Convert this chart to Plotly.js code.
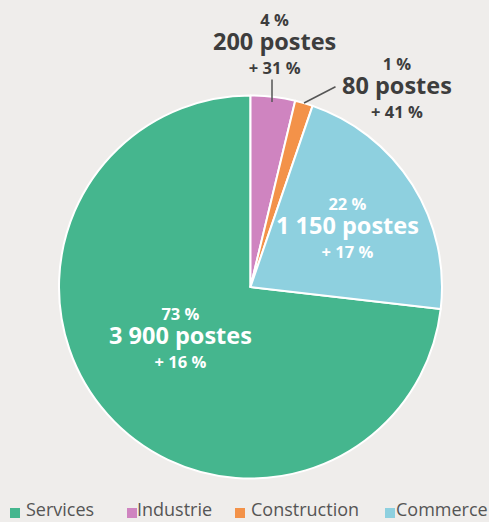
<!DOCTYPE html>
<html>
<head>
<meta charset="utf-8">
<script src="https://cdn.plot.ly/plotly-3.0.1.min.js"></script>
<style>
html,body{margin:0;padding:0;background:#efedeb;}
#chart{width:489px;height:522px;}
</style>
</head>
<body>
<div id="chart"></div>
<script>
// Data
const categories = ['Services', 'Industrie', 'Construction', 'Commerce'];
const postes = [3900, 200, 80, 1150];
const shares = ['73 %', '4 %', '1 %', '22 %'];
const growth = ['+ 16 %', '+ 31 %', '+ 41 %', '+ 17 %'];
const colors = ['#45b68e', '#cf84c0', '#f39249', '#8ed0df'];

function fmt(n) {
  return String(n).replace(/\B(?=(\d{3})+(?!\d))/g, ' ');
}
const posteLabels = postes.map(v => fmt(v) + ' postes');

const W = 489, H = 522;
const total = postes.reduce((a, b) => a + b, 0);
const rotation = 360 * (1 - postes[0] / total);

const trace = {
  type: 'pie',
  labels: categories,
  values: postes,
  sort: false,
  direction: 'clockwise',
  rotation: rotation,
  marker: { colors: colors, line: { color: '#ffffff', width: 2 } },
  textinfo: 'none',
  hoverinfo: 'label+value+percent',
  showlegend: false,
  domain: { x: [59 / W, 442 / W], y: [43.5 / H, 426.5 / H] }
};

// label block centres (pixels) for each category
const labelPos = [[180, 337], [274, 43], [397, 88], [347, 227]];
const textColor = ['#ffffff', '#3d3d3d', '#3d3d3d', '#ffffff'];

const annotations = [];
categories.forEach((c, i) => {
  const txt = '<b><span style="font-size:16.5px">' + shares[i] + '</span><br>' +
              '<span style="font-size:23.5px">' + posteLabels[i] + '</span><br>' +
              '<span style="font-size:16.5px">' + growth[i] + '</span></b>';
  annotations.push({
    xref: 'paper', yref: 'paper',
    x: labelPos[i][0] / W, y: 1 - labelPos[i][1] / H,
    xanchor: 'center', yanchor: 'middle', align: 'center',
    text: txt, showarrow: false,
    font: { family: 'Open Sans, sans-serif', size: 18.5, color: textColor[i] }
  });
});

// leader lines
annotations.push({
  xref: 'paper', yref: 'paper', x: 272 / W, y: 1 - 102 / H,
  ax: 0, ay: -24, text: '', showarrow: true, arrowhead: 0,
  arrowwidth: 1.5, arrowcolor: '#555555', standoff: 0, startstandoff: 0
});
annotations.push({
  xref: 'paper', yref: 'paper', x: 304 / W, y: 1 - 103 / H,
  ax: 33, ay: -17, text: '', showarrow: true, arrowhead: 0,
  arrowwidth: 1.5, arrowcolor: '#555555', standoff: 0, startstandoff: 0
});

// legend (swatch + label), laid out along the bottom
const legendTextX = [24, 135, 249, 394];
const legendSwatchX = [10, 127, 235, 385];
const shapes = [];
categories.forEach((c, i) => {
  shapes.push({
    type: 'rect', xref: 'paper', yref: 'paper',
    x0: legendSwatchX[i] / W, x1: (legendSwatchX[i] + 10) / W,
    y0: 1 - 518 / H, y1: 1 - 508 / H,
    fillcolor: colors[i], line: { width: 0 }
  });
  annotations.push({
    xref: 'paper', yref: 'paper',
    x: legendTextX[i] / W, y: 1 - 509 / H,
    xanchor: 'left', yanchor: 'middle',
    text: c, showarrow: false,
    font: { family: 'Open Sans, sans-serif', size: 18, color: '#555555' }
  });
});

const layout = {
  width: W, height: H,
  margin: { l: 0, r: 0, t: 0, b: 0 },
  paper_bgcolor: '#efedeb',
  plot_bgcolor: '#efedeb',
  showlegend: false,
  annotations: annotations,
  shapes: shapes
};

Plotly.newPlot('chart', [trace], layout, { displayModeBar: false, staticPlot: true });
</script>
</body>
</html>
